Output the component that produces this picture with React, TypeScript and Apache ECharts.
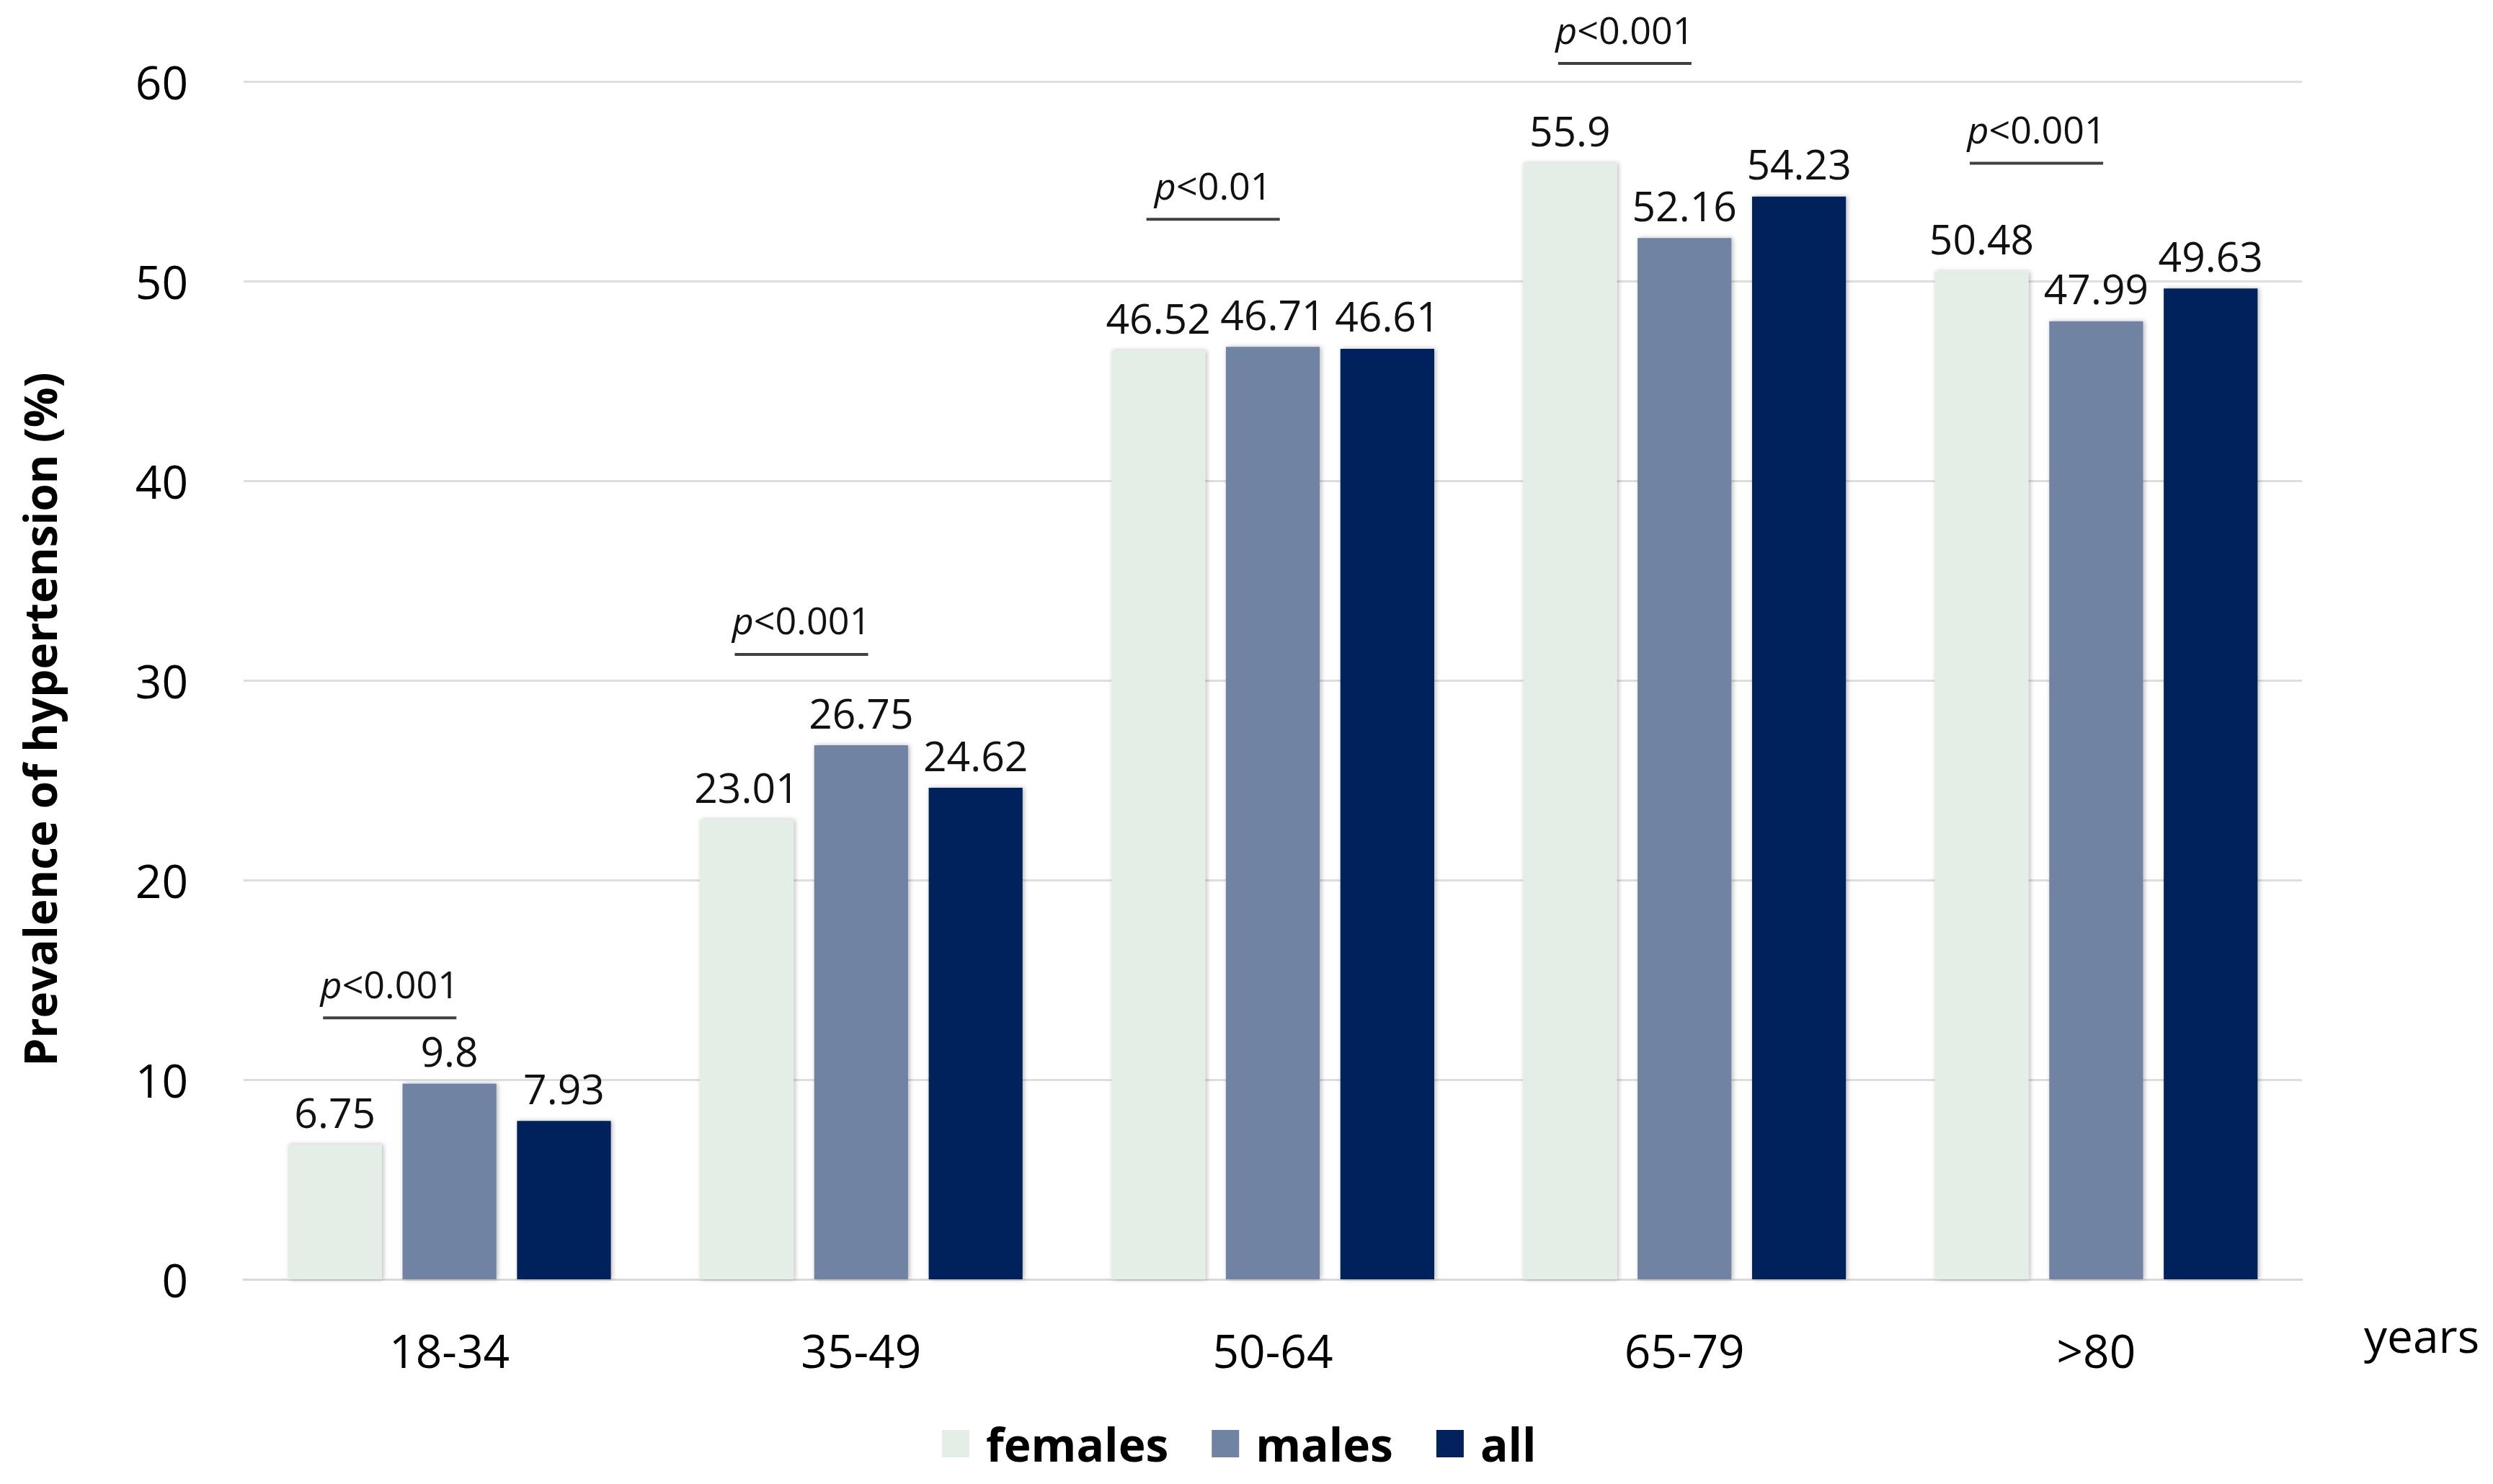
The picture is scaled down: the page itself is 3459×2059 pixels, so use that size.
import React, { useEffect, useRef } from "react";
import * as echarts from "echarts";

const categories = ["18-34", "35-49", "50-64", "65-79", ">80"];
const seriesNames = ["females", "males", "all"];
const females = [6.75, 23.01, 46.52, 55.9, 50.48];
const males = [9.8, 26.75, 46.71, 52.16, 47.99];
const all = [7.93, 24.62, 46.61, 54.23, 49.63];
const yTicks = [0, 10, 20, 30, 40, 50, 60];
const pLabels = ["<0.001", "<0.001", "<0.01", "<0.001", "<0.001"];
const pLineLevels = [13.1, 31.3, 53.1, 60.9, 55.9];

const colors = ["#e2eee6", "#6f83a3", "#03215c"];
const FONT = "'Open Sans', 'Noto Sans', sans-serif";

export default function App() {
  const ref = useRef<HTMLDivElement>(null);
  useEffect(() => {
    if (!ref.current) return;
    const chart = echarts.init(ref.current, null, { renderer: "svg" });
    const values = [females, males, all];
    const barSeries = seriesNames.map((name, i) => ({
      name,
      type: "bar",
      data: values[i],
      barWidth: "22.8%",
      barGap: "22%",
      itemStyle: {
        color: colors[i],
        shadowColor: "rgba(0,0,0,0.28)",
        shadowBlur: 6,
        shadowOffsetX: 2,
        shadowOffsetY: 0,
      },
      label: {
        show: true,
        position: "top",
        distance: 17,
        fontSize: 57,
        fontFamily: FONT,
        color: "#111",
      },
      emphasis: { disabled: true },
    }));
    const pSeries = {
      type: "custom",
      name: "p",
      clip: false,
      silent: true,
      data: pLineLevels.map((v, i) => [i, v]),
      renderItem: (params: any, api: any) => {
        const c = api.coord([api.value(0), api.value(1)]);
        const band = api.size([1, 0])[0];
        const cx = c[0] - band * 0.145;
        const half = band * 0.162;
        return {
          type: "group",
          children: [
            {
              type: "line",
              shape: { x1: cx - half, y1: c[1], x2: cx + half, y2: c[1] },
              style: { stroke: "#404040", lineWidth: 4 },
            },
            {
              type: "text",
              x: cx,
              y: c[1] - 22,
              style: {
                text: "{i|p}{n|" + pLabels[params.dataIndex] + "}",
                textAlign: "center",
                textVerticalAlign: "bottom",
                rich: {
                  i: { fontStyle: "italic", fontSize: 52, fontFamily: FONT, fill: "#111" },
                  n: { fontSize: 52, fontFamily: FONT, fill: "#111" },
                },
              },
            },
          ],
        };
      },
    };
    chart.setOption({
      animation: false,
      backgroundColor: "#ffffff",
      grid: { left: 338, right: 265, top: 113, bottom: 284, containLabel: false },
      legend: {
        data: seriesNames,
        left: 1302,
        top: 1966,
        icon: "rect",
        itemWidth: 38,
        itemHeight: 38,
        itemGap: 60,
        itemStyle: { shadowBlur: 0, shadowOffsetX: 0 },
        textStyle: {
          fontSize: 64,
          fontWeight: "bold",
          fontFamily: FONT,
          color: "#000",
          padding: [0, 0, 0, 18],
        },
        selectedMode: false,
      },
      xAxis: {
        type: "category",
        data: categories,
        axisTick: { show: false },
        axisLine: { lineStyle: { color: "#d9d9d9", width: 3 } },
        axisLabel: { fontSize: 64, fontFamily: FONT, color: "#000", margin: 66 },
      },
      yAxis: {
        type: "value",
        min: yTicks[0],
        max: yTicks[yTicks.length - 1],
        interval: 10,
        axisLine: { show: false },
        axisTick: { show: false },
        axisLabel: { fontSize: 64, fontFamily: FONT, color: "#000", margin: 77 },
        splitLine: { lineStyle: { color: "#dedede", width: 3 } },
      },
      graphic: [
        {
          type: "text",
          x: 55,
          y: 998,
          rotation: Math.PI / 2,
          style: {
            text: "Prevalence of hypertension (%)",
            textAlign: "center",
            textVerticalAlign: "middle",
            fontSize: 62,
            fontWeight: "bold",
            fontFamily: FONT,
            fill: "#000",
          },
        },
        {
          type: "text",
          x: 3280,
          y: 1852,
          style: {
            text: "years",
            textAlign: "left",
            textVerticalAlign: "middle",
            fontSize: 64,
            fontFamily: FONT,
            fill: "#000",
          },
        },
      ],
      series: [...barSeries, pSeries],
    });
    return () => chart.dispose();
  }, []);
  return (
    <div
      ref={ref}
      style={{ position: "absolute", left: 0, top: 0, width: 3459, height: 2059 }}
    />
  );
}
